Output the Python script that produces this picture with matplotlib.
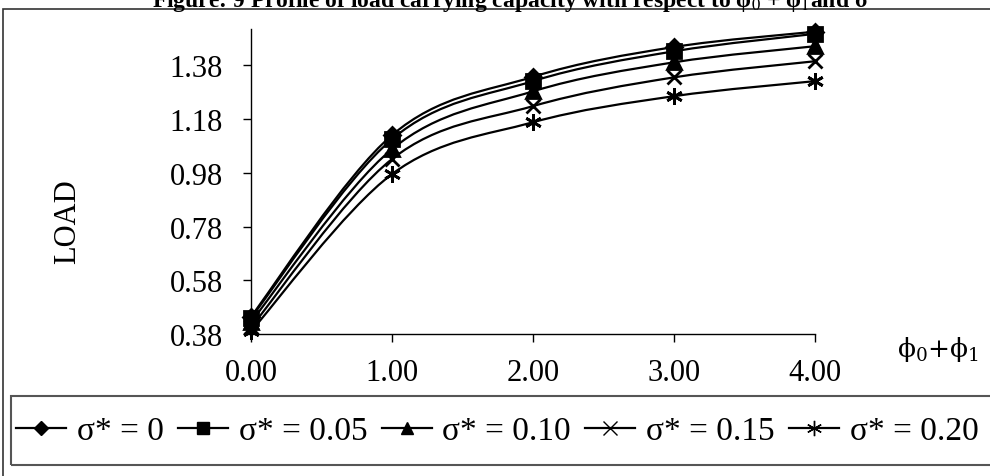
import matplotlib
matplotlib.use("Agg")
import matplotlib.pyplot as plt
import numpy as np
from matplotlib.path import Path
from matplotlib.patches import PathPatch, Rectangle
from matplotlib.lines import Line2D

plt.rcParams['font.family'] = ['Liberation Serif', 'DejaVu Serif']
plt.rcParams['mathtext.fontset'] = 'stix'

# data
phi_sum = [0.0, 1.0, 2.0, 3.0, 4.0]
load_s000 = [0.445, 1.120, 1.337, 1.448, 1.505]
load_s005 = [0.440, 1.105, 1.321, 1.432, 1.497]
load_s010 = [0.425, 1.068, 1.283, 1.391, 1.451]
load_s015 = [0.405, 1.031, 1.228, 1.335, 1.395]
load_s020 = [0.390, 0.975, 1.168, 1.265, 1.321]
labels = ['σ* = 0', 'σ* = 0.05', 'σ* = 0.10', 'σ* = 0.15', 'σ* = 0.20']
y_ticks = [0.38, 0.58, 0.78, 0.98, 1.18, 1.38]
x_ticks = [0, 1, 2, 3, 4]
x_ticklabels = ['0.00', '1.00', '2.00', '3.00', '4.00']

series = [load_s000, load_s005, load_s010, load_s015, load_s020]
markers = ['D', 's', '^', 'x', (6, 2, 0)]
msizes = [8, 10, 10, 10, 12]
leg_sizes = [7, 9, 8, 10, 11]
leg_mew = [1, 1, 1, 1, 1]


def smooth_path(x, y):
    # excel style smoothed line: cubic bezier through the points
    p = np.column_stack([x, y])
    n = len(p)
    verts = [p[0]]
    codes = [Path.MOVETO]
    for i in range(n - 1):
        prev = p[i - 1] if i > 0 else p[i]
        nxt = p[i + 2] if i + 2 < n else p[i + 1]
        c1 = p[i] + (p[i + 1] - prev) / 6.0
        c2 = p[i + 1] - (nxt - p[i]) / 6.0
        verts += [c1, c2, p[i + 1]]
        codes += [Path.CURVE4] * 3
    return Path(verts, codes)


fig = plt.figure(figsize=(9.9, 4.77), dpi=100)
ax = fig.add_axes([251 / 990, 1 - 335 / 477, (815 - 251) / 990, (335 - 30) / 477])

for ys, m, ms in zip(series, markers, msizes):
    ax.add_patch(PathPatch(smooth_path(phi_sum, ys), fill=False, edgecolor='black',
                           lw=1.6, clip_on=False))
    ax.plot(phi_sum, ys, linestyle='none', marker=m, ms=ms, color='black',
            mec='black', mew=2.0, clip_on=False, zorder=3)

ax.set_xlim(0, 4)
ax.set_ylim(0.38, 1.515)
ax.set_xticks(x_ticks)
ax.set_xticklabels(x_ticklabels)
ax.set_yticks(y_ticks)
ax.set_yticklabels(['%.2f' % v for v in y_ticks])
ax.tick_params(direction='out', length=6, width=1, labelsize=22)
ax.tick_params(axis='y', pad=14)
ax.tick_params(axis='x', pad=11)
for s in ['top', 'right']:
    ax.spines[s].set_visible(False)
for s in ['left', 'bottom']:
    ax.spines[s].set_linewidth(1)

fig.text(68 / 990, 1 - 222 / 477, 'LOAD', rotation=90, ha='center', va='center', fontsize=22)
fig.text(938 / 990, 1 - 350 / 477, r'$\mathrm{\phi_0{+}\phi_1}$', ha='center', va='center',
         fontsize=19, math_fontfamily='dejavuserif')

fig.text(510 / 990, 1 - 7 / 477,
         'Figure: 9 Profile of load carrying capacity with respect to φ$_0$ + φ$_1$and σ',
         ha='center', va='baseline', fontsize=17, fontweight='bold')

# outer chart frame
fig.patches.append(Rectangle((3 / 990, -0.1), 1.2, 1.1 - 10 / 477, transform=fig.transFigure,
                             fill=False, edgecolor='#333333', lw=1.2))
# legend box
fig.patches.append(Rectangle((11 / 990, 1 - 466 / 477), 1.2, (466 - 397) / 477,
                             transform=fig.transFigure, fill=False, edgecolor='#555555', lw=1.5))

handles = [Line2D([], [], color='black', lw=1.6, marker=m, ms=ms, mew=w)
           for m, ms, w in zip(markers, leg_sizes, leg_mew)]
fig.legend(handles, labels, loc='center left', bbox_to_anchor=(16 / 990, 1 - 432 / 477),
           ncol=5, frameon=False, fontsize=24, handlelength=1.5, handletextpad=0.33,
           columnspacing=0.42, borderpad=0, borderaxespad=0)

fig.savefig('out.png', dpi=100)
